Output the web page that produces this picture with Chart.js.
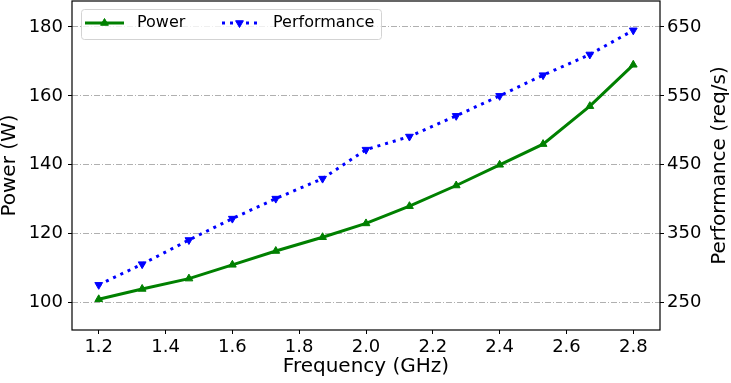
<!DOCTYPE html>
<html>
<head>
<meta charset="utf-8">
<script src="https://cdn.jsdelivr.net/npm/chart.js@4/dist/chart.umd.min.js"></script>
<style>
  html, body { margin: 0; padding: 0; background: #fff; }
  #wrap { width: 731px; height: 383px; }
</style>
</head>
<body>
<div id="wrap"><canvas id="grafico"></canvas></div>
<script>
// datos
const frecuencias = [1.2, 1.33, 1.47, 1.6, 1.73, 1.87, 2.0, 2.13, 2.27, 2.4, 2.53, 2.67, 2.8];
const potencia = [101, 104, 107, 111, 115, 119, 123, 128, 134, 140, 146, 157, 169];
const rendimiento = [276, 306, 341, 372, 401, 430, 472, 491, 521, 550, 580, 610, 645];
const ticksX = [1.2, 1.4, 1.6, 1.8, 2.0, 2.2, 2.4, 2.6, 2.8];
const ticksPotencia = [100, 120, 140, 160, 180];
const ticksRendimiento = [250, 350, 450, 550, 650];

const FUENTE = 'DejaVu Sans';

// marco del area + leyenda con caja + titulo derecho
const extras = {
    id: 'extras',
    afterDatasetsDraw(chart) {
        const ctx = chart.ctx;
        const a = chart.chartArea;
        ctx.save();
        ctx.strokeStyle = '#000';
        ctx.lineWidth = 1.2;
        ctx.strokeRect(a.left, a.top, a.right - a.left, a.bottom - a.top);

        // caja de leyenda
        const bx = 81, by = 9, bw = 300, bh = 30;
        ctx.beginPath();
        ctx.roundRect(bx + 0.5, by + 0.5, bw, bh, 3);
        ctx.fillStyle = 'rgba(255,255,255,0.8)';
        ctx.fill();
        ctx.strokeStyle = '#d3d3d3';
        ctx.lineWidth = 1;
        ctx.stroke();

        const ly = 23;
        chart.data.datasets.forEach((ds, i) => {
            const x0 = i === 0 ? 85 : 222;
            const x1 = i === 0 ? 124 : 257;
            ctx.beginPath();
            ctx.setLineDash(ds.borderDash || []);
            ctx.strokeStyle = ds.borderColor;
            ctx.lineWidth = ds.borderWidth;
            ctx.moveTo(x0, ly);
            ctx.lineTo(x1, ly);
            ctx.stroke();
            ctx.setLineDash([]);
            ctx.fillStyle = ds.backgroundColor;
            ctx.lineWidth = 1;
            Chart.helpers.drawPoint(ctx, {
                pointStyle: 'triangle',
                radius: ds.pointRadius,
                rotation: ds.pointRotation || 0,
                borderWidth: 1
            }, (x0 + x1) / 2, ly);
            ctx.fillStyle = '#000';
            ctx.font = '16px "' + FUENTE + '"';
            ctx.textBaseline = 'middle';
            ctx.textAlign = 'left';
            ctx.fillText(ds.label, i === 0 ? 137 : 273, ly);
        });
        ctx.restore();
    },
    afterDraw(chart) {
        const ctx = chart.ctx;
        const a = chart.chartArea;
        ctx.save();
        ctx.translate(720, (a.top + a.bottom) / 2);
        ctx.rotate(-Math.PI / 2);
        ctx.fillStyle = '#000';
        ctx.font = '20px "' + FUENTE + '"';
        ctx.textAlign = 'center';
        ctx.textBaseline = 'middle';
        ctx.fillText('Performance (req/s)', 0, 0);
        ctx.restore();
    }
};

// fija los ticks a los valores de la lista
function fijarTicks(valores) {
    return function (escala) {
        escala.ticks = valores.map(v => ({ value: v }));
    };
}

// ancho fijo de eje vertical sin relleno extra
function anchoFijo(w) {
    return function (s) {
        s.width = w;
        s.paddingTop = 0;
        s.paddingBottom = 0;
    };
}

new Chart(document.getElementById('grafico'), {
    type: 'line',
    data: {
        datasets: [{
            label: 'Power',
            data: frecuencias.map((f, i) => ({ x: f, y: potencia[i] })),
            yAxisID: 'y',
            borderColor: '#008000',
            backgroundColor: '#008000',
            borderWidth: 3,
            pointStyle: 'triangle',
            pointRadius: 4.5,
            pointBorderWidth: 1,
            tension: 0
        }, {
            label: 'Performance',
            data: frecuencias.map((f, i) => ({ x: f, y: rendimiento[i] })),
            yAxisID: 'y2',
            borderColor: '#0000ff',
            backgroundColor: '#0000ff',
            borderWidth: 3,
            borderDash: [3, 5],
            pointStyle: 'triangle',
            pointRotation: 180,
            pointRadius: 4.5,
            pointBorderWidth: 1,
            tension: 0
        }]
    },
    options: {
        responsive: true,
        maintainAspectRatio: false,
        animation: false,
        layout: { autoPadding: false, padding: { top: 1, left: 0, right: 0, bottom: 0 } },
        plugins: {
            legend: { display: false },
            tooltip: { enabled: false }
        },
        scales: {
            x: {
                type: 'linear',
                min: 1.12,
                max: 2.88,
                afterBuildTicks: fijarTicks(ticksX),
                afterFit: s => { s.height = 53; s.paddingLeft = 0; s.paddingRight = 0; },
                border: { display: false },
                grid: { drawOnChartArea: false, tickLength: 4, tickColor: '#000', tickWidth: 1 },
                ticks: {
                    color: '#000',
                    padding: 3,
                    font: { family: FUENTE, size: 18 },
                    callback: v => v.toFixed(1)
                },
                title: {
                    display: true,
                    text: 'Frequency (GHz)',
                    color: '#000',
                    font: { family: FUENTE, size: 20, lineHeight: 1 },
                    padding: { top: 0, bottom: 6 }
                }
            },
            y: {
                position: 'left',
                min: 92.1,
                max: 187.5,
                afterBuildTicks: fijarTicks(ticksPotencia),
                afterFit: anchoFijo(72),
                border: { display: false, dash: [6, 2, 1, 2] },
                grid: { color: '#b0b0b0', lineWidth: 1, tickLength: 4, tickColor: '#000', tickBorderDash: [] },
                ticks: {
                    color: '#000',
                    padding: 5,
                    font: { family: FUENTE, size: 18 }
                },
                title: {
                    display: true,
                    text: 'Power (W)',
                    color: '#000',
                    font: { family: FUENTE, size: 20, lineHeight: 1 },
                    padding: { top: 0, bottom: 0 }
                }
            },
            y2: {
                position: 'right',
                min: 210.5,
                max: 687.5,
                afterBuildTicks: fijarTicks(ticksRendimiento),
                afterFit: anchoFijo(71),
                border: { display: false },
                grid: { drawOnChartArea: false, tickLength: 4, tickColor: '#000' },
                ticks: {
                    color: '#000',
                    padding: 3,
                    font: { family: FUENTE, size: 18 }
                }
            }
        }
    },
    plugins: [extras]
});
</script>
</body>
</html>
